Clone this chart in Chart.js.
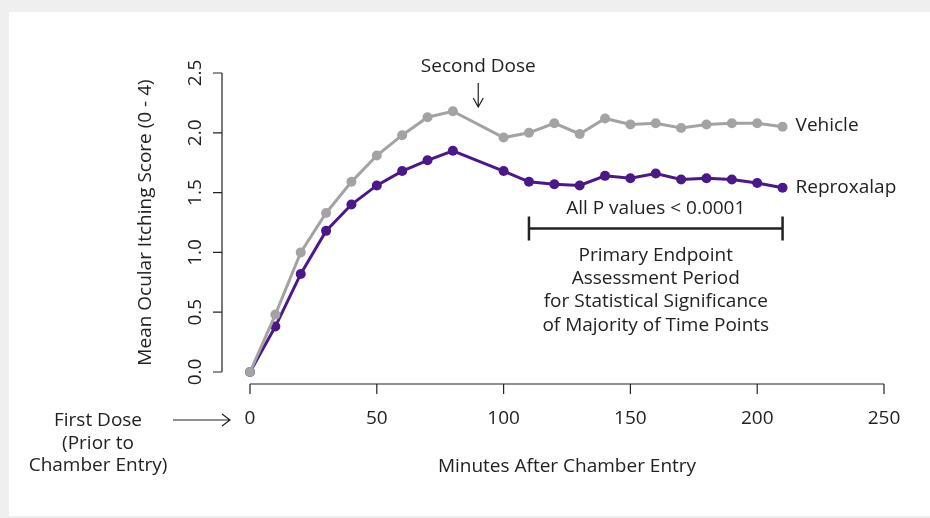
<!DOCTYPE html>
<html>
<head>
<meta charset="utf-8">
<script src="https://cdn.jsdelivr.net/npm/chart.js@4"></script>
<style>
  html, body { margin: 0; padding: 0; background: #efefef; }
  #panel { position: absolute; left: 9px; top: 12px; width: 921px; height: 504px; background: #fff; }
  #wrap { position: absolute; left: 0; top: 0; width: 930px; height: 518px; }
</style>
</head>
<body>
<div id="panel"></div>
<div id="wrap"><canvas id="itchChart" width="930" height="518"></canvas></div>
<script>
// minutes after chamber entry (no reading at 90)
const minutes = [0, 10, 20, 30, 40, 50, 60, 70, 80, 100, 110, 120, 130, 140, 150, 160, 170, 180, 190, 200, 210];
const vehicle = [0, 0.48, 1.00, 1.33, 1.59, 1.81, 1.98, 2.13, 2.18, 1.96, 2.00, 2.08, 1.99, 2.12, 2.07, 2.08, 2.04, 2.07, 2.08, 2.08, 2.05];
const reproxalap = [0, 0.38, 0.82, 1.18, 1.40, 1.56, 1.68, 1.77, 1.85, 1.68, 1.59, 1.57, 1.56, 1.64, 1.62, 1.66, 1.61, 1.62, 1.61, 1.58, 1.54];
const xTicks = [0, 50, 100, 150, 200, 250];
const yTicks = [0, 0.5, 1.0, 1.5, 2.0, 2.5];

const FONT = '"Open Sans", sans-serif';
const FS = 19;
const INK = '#222';
const GRAY = '#a3a3a3';
const PURPLE = '#4a1889';

const toPoints = ys => minutes.map((m, i) => ({ x: m, y: ys[i] }));

const annotations = {
    id: 'annotations',
    afterDraw(chart) {
        const ctx = chart.ctx;
        const xs = chart.scales.x, ys = chart.scales.y;
        const px = v => xs.getPixelForValue(v);
        const py = v => ys.getPixelForValue(v);
        ctx.save();
        ctx.strokeStyle = INK;
        ctx.fillStyle = INK;
        ctx.lineWidth = 1.2;

        // R-style detached axes
        const axY = chart.chartArea.bottom + 12;
        ctx.beginPath();
        ctx.moveTo(px(0), axY); ctx.lineTo(px(250), axY);
        xTicks.forEach(t => { ctx.moveTo(px(t), axY); ctx.lineTo(px(t), axY + 10); });
        const axX = chart.chartArea.left - 28;
        ctx.moveTo(axX, py(0)); ctx.lineTo(axX, py(2.5));
        yTicks.forEach(t => { ctx.moveTo(axX, py(t)); ctx.lineTo(axX - 9, py(t)); });
        ctx.stroke();

        ctx.font = FS + 'px ' + FONT;
        ctx.textAlign = 'center';
        ctx.textBaseline = 'middle';

        // second dose
        ctx.fillText('Second Dose', px(90), 67);
        ctx.beginPath();
        ctx.moveTo(px(90), 83); ctx.lineTo(px(90), 107);
        ctx.moveTo(px(90) - 5, 98); ctx.lineTo(px(90), 107); ctx.lineTo(px(90) + 5, 98);
        ctx.stroke();

        // significance bracket
        ctx.lineWidth = 2.5;
        const by = py(1.2);
        ctx.beginPath();
        ctx.moveTo(px(110), by); ctx.lineTo(px(210), by);
        ctx.moveTo(px(110), by - 12); ctx.lineTo(px(110), by + 12);
        ctx.moveTo(px(210), by - 12); ctx.lineTo(px(210), by + 12);
        ctx.stroke();
        const mid = (px(110) + px(210)) / 2;
        ctx.fillText('All P values < 0.0001', mid, by - 20);
        ['Primary Endpoint', 'Assessment Period', 'for Statistical Significance', 'of Majority of Time Points']
            .forEach((s, i) => ctx.fillText(s, mid, by + 27 + i * 23.3));

        // series labels
        ctx.textAlign = 'left';
        ctx.fillText('Vehicle', px(210) + 13, py(vehicle[vehicle.length - 1]) - 1);
        ctx.fillText('Reproxalap', px(210) + 13, py(reproxalap[reproxalap.length - 1]));

        // first dose note
        ctx.textAlign = 'center';
        ['First Dose', '(Prior to', 'Chamber Entry)'].forEach((s, i) => ctx.fillText(s, 98, 421 + i * 22.5));
        ctx.lineWidth = 1.2;
        ctx.beginPath();
        ctx.moveTo(173, 420); ctx.lineTo(230, 420);
        ctx.moveTo(222, 414); ctx.lineTo(230, 420); ctx.lineTo(222, 426);
        ctx.stroke();
        ctx.restore();
    }
};

new Chart(document.getElementById('itchChart'), {
    type: 'line',
    data: {
        datasets: [
            {
                label: 'Vehicle',
                data: toPoints(vehicle),
                borderColor: GRAY,
                backgroundColor: GRAY,
                borderWidth: 3,
                pointRadius: 5,
                pointBorderWidth: 0,
                clip: false,
            },
            {
                label: 'Reproxalap',
                data: toPoints(reproxalap),
                borderColor: PURPLE,
                backgroundColor: PURPLE,
                borderWidth: 3,
                pointRadius: 5,
                pointBorderWidth: 0,
                clip: false,
            },
        ],
    },
    options: {
        responsive: false,
        animation: false,
        layout: { padding: { left: 130, right: 46, top: 73, bottom: 40 } },
        plugins: { legend: { display: false }, tooltip: { enabled: false } },
        scales: {
            x: {
                type: 'linear', min: 0, max: 250,
                afterBuildTicks: s => { s.ticks = xTicks.map(v => ({ value: v })); },
                afterFit: s => { s.height = 106; s.paddingLeft = 0; s.paddingRight = 0; },
                grid: { display: false, drawTicks: false },
                border: { display: false },
                ticks: { color: INK, font: { family: FONT, size: FS }, padding: 35 },
                title: { display: true, text: 'Minutes After Chamber Entry', color: INK, font: { family: FONT, size: FS }, padding: 0 },
            },
            y: {
                min: 0, max: 2.5,
                afterBuildTicks: s => { s.ticks = yTicks.map(v => ({ value: v })); },
                afterFit: s => { s.width = 120; },
                grid: { display: false, drawTicks: false },
                border: { display: false },
                ticks: {
                    color: INK, font: { family: FONT, size: FS },
                    minRotation: 90, maxRotation: 90, crossAlign: 'center', autoSkip: false,
                    padding: 41,
                    callback: v => v.toFixed(1),
                },
                title: { display: true, text: 'Mean Ocular Itching Score (0 - 4)', color: INK, font: { family: FONT, size: FS }, padding: { top: 4, bottom: 0 } },
            },
        },
    },
    plugins: [annotations],
});
</script>
</body>
</html>
